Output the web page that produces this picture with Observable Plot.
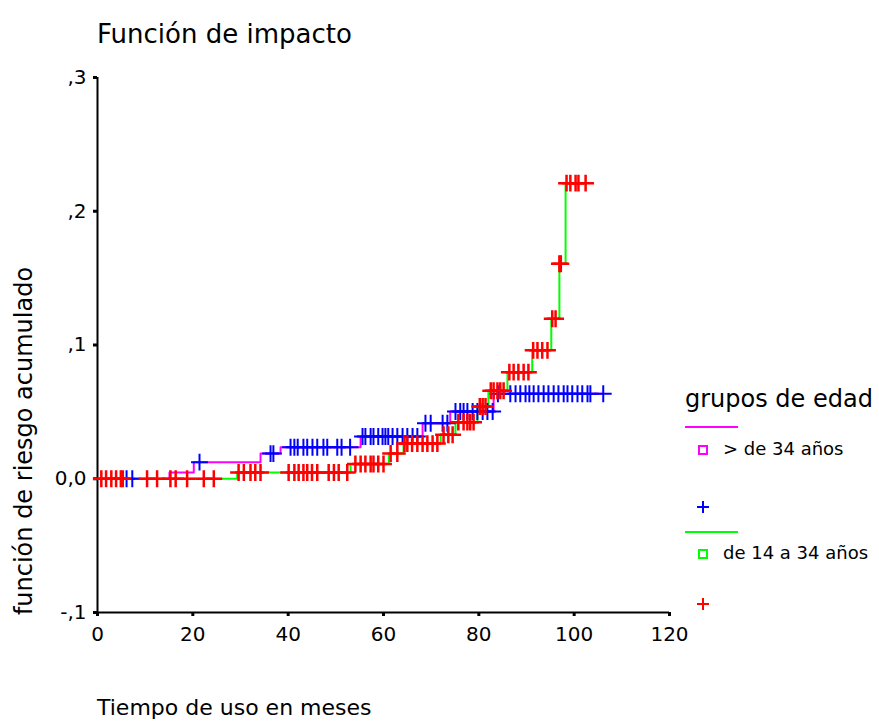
<!DOCTYPE html>
<html><head><meta charset="utf-8">
<script src="https://cdn.jsdelivr.net/npm/d3@7"></script>
<script src="https://cdn.jsdelivr.net/npm/@observablehq/plot@0.6"></script>
<style>
body{margin:0;background:#fff;}
#wrap{position:relative;width:879px;height:722px;font-family:"DejaVu Sans",sans-serif;color:#000;overflow:hidden;}
.t{position:absolute;white-space:nowrap;line-height:1;}
#wrap svg.plot{position:absolute;left:0;top:0;}
</style></head><body><div id="wrap"></div>
<script>
// ---- texts ----
const titleText = "Función de impacto";
const xLabel = "Tiempo de uso en meses";
const yLabel = "función de riesgo acumulado";
const legendTitle = "grupos de edad";
const groupNames = ["> de 34 años", "de 14 a 34 años"];
const lineColors = ["#ff00ff", "#00ff00"];
const censorColors = ["#0000ff", "#ff0000"];

// ---- axes ----
const xTicks = [0, 20, 40, 60, 80, 100, 120];
const yTicks = [-0.1, 0, 0.1, 0.2, 0.3];
const yTickLabels = ["-,1", "0,0", ",1", ",2", ",3"];

// ---- group 1: > de 34 años (step function of cumulative hazard) ----
const g1StepTimes  = [0, 15.1, 20.2, 34.2, 38.4, 55.2, 68.2, 74.0, 83.1, 106.1];
const g1StepLevels = [0, 0.0047, 0.0124, 0.0188, 0.0236, 0.0316, 0.0415, 0.0503, 0.0636, 0.0636];
const g1CensorTimes = [6.1, 7.3, 21.4, 36.3, 36.9,
  40.5, 41.3, 42.0, 43.2, 44.0, 45.1, 46.1, 47.4, 48.2, 50.3, 51.2, 53.0,
  55.6, 56.2, 57.3, 57.9, 58.9, 59.8, 60.4, 61.0, 61.9, 62.9, 64.0, 65.0, 66.1, 67.1,
  68.8, 69.9, 72.4, 73.4,
  75.1, 76.1, 76.8, 77.6, 78.7, 79.7, 80.8, 81.8, 82.9,
  84.0, 86.6, 87.7, 88.7, 89.8, 90.6, 91.5, 92.5, 93.6, 94.6, 95.7, 96.7, 97.8, 98.6, 99.6, 100.7, 101.7, 102.8, 103.4, 106.1];

// ---- group 2: de 14 a 34 años ----
const g2StepTimes  = [0, 29.3, 53.1, 61.1, 64.2, 72.0, 75.1, 79.7, 82.0, 86.0, 91.2, 95.2, 96.9, 98.2, 102.4];
const g2StepLevels = [0, 0.0047, 0.011, 0.0189, 0.0263, 0.0329, 0.0423, 0.054, 0.0658, 0.0797, 0.096, 0.1196, 0.1607, 0.221, 0.221];
const g2CensorTimes = [0.8, 1.8, 2.9, 3.9, 4.9, 5.3, 10.4, 12.5, 15.3, 16.4, 18.8, 22.3, 24.4,
  29.6, 30.7, 32.1, 33.1, 34.2, 40.1, 41.3, 42.2, 43.2, 44.0, 45.0, 46.1, 48.5, 49.6, 50.6, 52.4,
  54.1, 55.2, 56.2, 57.3, 57.9, 58.9, 60.0,
  61.5, 62.9,
  64.4, 65.0, 66.0, 67.1, 68.2, 69.2, 70.3, 71.3,
  72.6, 73.6, 74.5,
  75.7, 76.8, 77.6, 78.2, 78.9,
  80.2, 80.8, 81.4,
  82.5, 83.1, 83.9, 84.5, 85.2,
  86.4, 87.3, 88.3, 89.4, 90.4,
  91.4, 92.3, 93.3, 94.4,
  95.4, 96.1,
  96.9, 97.2,
  98.4, 99.2, 100.3, 100.9, 102.4];

// step value lookup (value of the step function at time t)
function stepAt(times, levels, t) {
  let v = levels[0];
  for (let i = 0; i < times.length; i++) if (times[i] <= t) v = levels[i];
  return v;
}
const g1Line = g1StepTimes.map((t, i) => ({t, h: g1StepLevels[i]}));
const g2Line = g2StepTimes.map((t, i) => ({t, h: g2StepLevels[i]}));
const g1Cens = g1CensorTimes.map(t => ({t, h: stepAt(g1StepTimes, g1StepLevels, t)}));
const g2Cens = g2CensorTimes.map(t => ({t, h: stepAt(g2StepTimes, g2StepLevels, t)}));

const plot = Plot.plot({
  width: 879, height: 722,
  marginLeft: 97, marginRight: 210, marginTop: 77, marginBottom: 110,
  style: {fontFamily: '"DejaVu Sans", sans-serif', fontSize: "20px", background: "white", overflow: "visible"},
  x: {domain: [0, 120], ticks: xTicks},
  y: {domain: [-0.1, 0.3], ticks: yTicks, tickFormat: d => yTickLabels[yTicks.indexOf(d)]},
  marks: [
    Plot.axisX({ticks: xTicks, tickSize: 4, strokeWidth: 3, tickPadding: 10, fontSize: 20, label: null, color: "#000"}),
    Plot.axisY({ticks: yTicks, tickSize: 4, strokeWidth: 3, tickPadding: 7, fontSize: 20, label: null, color: "#000",
      tickFormat: d => yTickLabels[yTicks.indexOf(d)]}),
    Plot.ruleX([0], {stroke: "#000", strokeWidth: 2}),
    Plot.ruleY([-0.1], {stroke: "#000", strokeWidth: 2}),
    Plot.line(g1Line, {x: "t", y: "h", curve: "step-after", stroke: lineColors[0], strokeWidth: 2}),
    Plot.line(g2Line, {x: "t", y: "h", curve: "step-after", stroke: lineColors[1], strokeWidth: 2}),
    Plot.dot(g1Cens, {x: "t", y: "h", symbol: "plus", r: 5.5, stroke: censorColors[0], strokeWidth: 2}),
    Plot.dot(g2Cens, {x: "t", y: "h", symbol: "plus", r: 5.5, stroke: censorColors[1], strokeWidth: 2.5})
  ]
});
plot.classList.add("plot");
const wrap = document.getElementById("wrap");
wrap.appendChild(plot);

function addText(txt, css) {
  const d = document.createElement("div");
  d.className = "t";
  d.textContent = txt;
  Object.assign(d.style, css);
  wrap.appendChild(d);
  return d;
}
addText(titleText, {left: "97px", top: "21px", fontSize: "26px"});
addText(xLabel, {left: "97px", top: "697px", fontSize: "22px"});
addText(yLabel, {left: "24px", top: "441px", fontSize: "24px", transform: "translate(-50%,-50%) rotate(-90deg)"});

// legend
addText(legendTitle, {left: "685px", top: "387px", fontSize: "24px"});
const leg = d3.select(wrap).append("svg")
  .attr("width", 879).attr("height", 722)
  .style("position", "absolute").style("left", 0).style("top", 0).style("pointer-events", "none");
const legRows = [
  {lineY: 427, sqY: 450, plusY: 507},
  {lineY: 532, sqY: 554, plusY: 604}
];
legRows.forEach((r, i) => {
  leg.append("line").attr("x1", 685).attr("x2", 738).attr("y1", r.lineY).attr("y2", r.lineY)
    .attr("stroke", lineColors[i]).attr("stroke-width", 2);
  leg.append("rect").attr("x", 699).attr("y", r.sqY - 4).attr("width", 8).attr("height", 8)
    .attr("fill", "none").attr("stroke", lineColors[i]).attr("stroke-width", 2);
  leg.append("path").attr("d", `M697,${r.plusY}H709M703,${r.plusY - 6}V${r.plusY + 6}`)
    .attr("stroke", censorColors[i]).attr("stroke-width", 2);
  addText(groupNames[i], {left: "723px", top: (r.sqY - 10) + "px", fontSize: "18px"});
});
</script></body></html>
